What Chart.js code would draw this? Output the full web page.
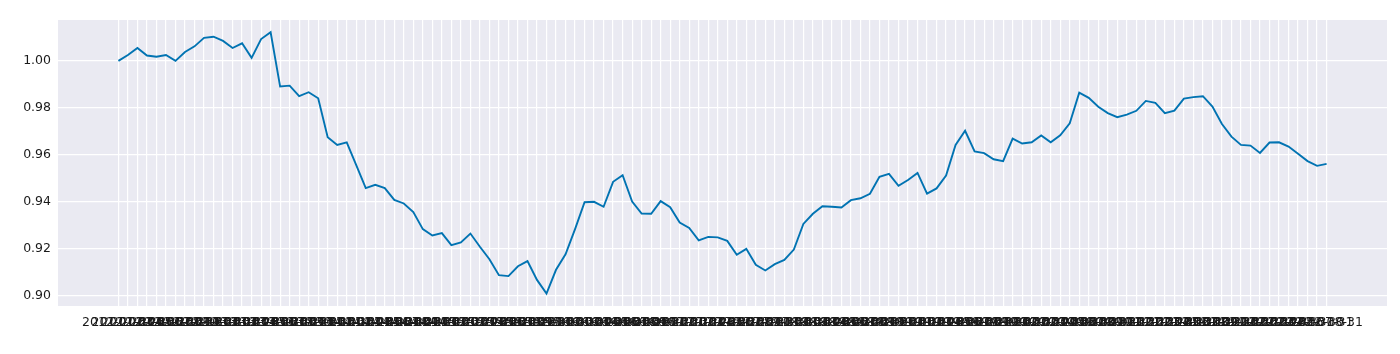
<!DOCTYPE html>
<html>
<head>
<meta charset="utf-8">
<script src="https://cdn.jsdelivr.net/npm/chart.js@4"></script>
<style>
  html, body { margin: 0; padding: 0; background: #fff; }
  #wrap { width: 1400px; height: 354px; }
</style>
</head>
<body>
<div id="wrap"><canvas id="chart"></canvas></div>
<script>
// Month-end dates, one per point (x tick labels)
const DATES = [
  "2012-01-31","2012-02-29","2012-03-31","2012-04-30","2012-05-31","2012-06-30","2012-07-31","2012-08-31","2012-09-30","2012-10-31","2012-11-30","2012-12-31",
  "2013-01-31","2013-02-28","2013-03-31","2013-04-30","2013-05-31","2013-06-30","2013-07-31","2013-08-31","2013-09-30","2013-10-31","2013-11-30","2013-12-31",
  "2014-01-31","2014-02-28","2014-03-31","2014-04-30","2014-05-31","2014-06-30","2014-07-31","2014-08-31","2014-09-30","2014-10-31","2014-11-30","2014-12-31",
  "2015-01-31","2015-02-28","2015-03-31","2015-04-30","2015-05-31","2015-06-30","2015-07-31","2015-08-31","2015-09-30","2015-10-31","2015-11-30","2015-12-31",
  "2016-01-31","2016-02-29","2016-03-31","2016-04-30","2016-05-31","2016-06-30","2016-07-31","2016-08-31","2016-09-30","2016-10-31","2016-11-30","2016-12-31",
  "2017-01-31","2017-02-28","2017-03-31","2017-04-30","2017-05-31","2017-06-30","2017-07-31","2017-08-31","2017-09-30","2017-10-31","2017-11-30","2017-12-31",
  "2018-01-31","2018-02-28","2018-03-31","2018-04-30","2018-05-31","2018-06-30","2018-07-31","2018-08-31","2018-09-30","2018-10-31","2018-11-30","2018-12-31",
  "2019-01-31","2019-02-28","2019-03-31","2019-04-30","2019-05-31","2019-06-30","2019-07-31","2019-08-31","2019-09-30","2019-10-31","2019-11-30","2019-12-31",
  "2020-01-31","2020-02-29","2020-03-31","2020-04-30","2020-05-31","2020-06-30","2020-07-31","2020-08-31","2020-09-30","2020-10-31","2020-11-30","2020-12-31",
  "2021-01-31","2021-02-28","2021-03-31","2021-04-30","2021-05-31","2021-06-30","2021-07-31","2021-08-31","2021-09-30","2021-10-31","2021-11-30","2021-12-31",
  "2022-01-31","2022-02-28","2022-03-31","2022-04-30","2022-05-31","2022-06-30","2022-07-31","2022-08-31"
];

// Relative value
const VALUES = [
  1.0000, 1.0025, 1.0055, 1.0023, 1.0018, 1.0025, 1.0000, 1.0038, 1.0062, 1.0098,
  1.0103, 1.0085, 1.0055, 1.0075, 1.0013, 1.0093, 1.0122, 0.9891, 0.9895, 0.9850,
  0.9867, 0.9841, 0.9676, 0.9643, 0.9654, 0.9557, 0.9459, 0.9473, 0.9459, 0.9409,
  0.9394, 0.9357, 0.9285, 0.9258, 0.9268, 0.9217, 0.9228, 0.9266, 0.9210, 0.9157,
  0.9089, 0.9085, 0.9127, 0.9149, 0.9069, 0.9011, 0.9112, 0.9178, 0.9285, 0.9399,
  0.9401, 0.9380, 0.9486, 0.9514, 0.9402, 0.9351, 0.9350, 0.9404, 0.9378, 0.9313,
  0.9290, 0.9237, 0.9252, 0.9250, 0.9235, 0.9176, 0.9201, 0.9133, 0.9109, 0.9136,
  0.9154, 0.9198, 0.9307, 0.9350, 0.9382, 0.9380, 0.9377, 0.9408, 0.9416, 0.9435,
  0.9507, 0.9520, 0.9469, 0.9494, 0.9524, 0.9436, 0.9458, 0.9513, 0.9643, 0.9703,
  0.9615, 0.9608, 0.9582, 0.9574, 0.9670, 0.9649, 0.9654, 0.9683, 0.9654, 0.9684,
  0.9735, 0.9865, 0.9843, 0.9805, 0.9778, 0.9761, 0.9772, 0.9788, 0.9830, 0.9822,
  0.9778, 0.9789, 0.9840, 0.9846, 0.9850, 0.9806, 0.9732, 0.9678, 0.9643, 0.9640,
  0.9609, 0.9653, 0.9654, 0.9636, 0.9605, 0.9574, 0.9554, 0.9562
];

const Y_TICKS = [0.90, 0.92, 0.94, 0.96, 0.98, 1.00];

Chart.defaults.font.family = "'DejaVu Sans', sans-serif";
Chart.defaults.font.size   = 12.5;
Chart.defaults.color       = "#1a1a1a";

// Axes face colour (seaborn darkgrid)
const plotBg = {
  id: "plotBg",
  beforeDraw(chart) {
    const { ctx, chartArea: a } = chart;
    ctx.save();
    ctx.fillStyle = "#EAEAF2";
    ctx.fillRect(a.left, a.top, a.right - a.left, a.bottom - a.top);
    ctx.restore();
  },
};

const n = VALUES.length;
const pad = (n - 1) * 0.05;

new Chart(document.getElementById("chart"), {
  type: "line",
  data: {
    datasets: [{
      data: VALUES.map((v, i) => ({ x: i, y: v })),
      borderColor: "#0173B2",
      borderWidth: 1.9,
      pointRadius: 0,
      tension: 0,
      fill: false,
    }],
  },
  options: {
    responsive: true,
    maintainAspectRatio: false,
    animation: false,
    layout: { padding: { top: 20, right: 13, left: 0, bottom: 0 } },
    plugins: { legend: { display: false }, tooltip: { enabled: false } },
    scales: {
      x: {
        type: "linear",
        min: -pad,
        max: n - 1 + pad,
        border: { display: false },
        grid: { color: "#ffffff", lineWidth: 1.2, drawTicks: false },
        afterBuildTicks: s => { s.ticks = DATES.map((_, i) => ({ value: i })); },
        afterFit: s => { s.height = 48; },
        ticks: {
          autoSkip: false,
          maxRotation: 0,
          minRotation: 0,
          padding: 9,
          callback: v => DATES[v],
        },
      },
      y: {
        min: 0.8958,
        max: 1.0174,
        border: { display: false },
        grid: { color: "#ffffff", lineWidth: 1.3, drawTicks: false },
        afterBuildTicks: s => { s.ticks = Y_TICKS.map(v => ({ value: v })); },
        afterFit: s => { s.width = 58; },
        ticks: {
          padding: 7,
          callback: v => v.toFixed(2),
        },
      },
    },
  },
  plugins: [plotBg],
});
</script>
</body>
</html>
